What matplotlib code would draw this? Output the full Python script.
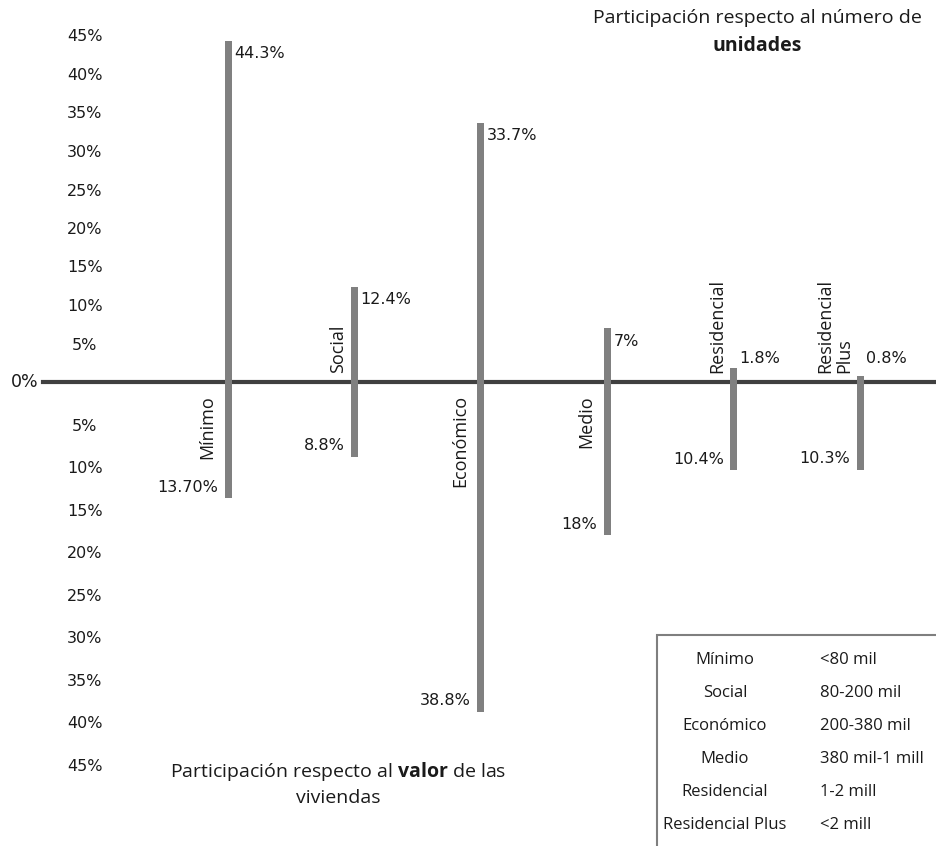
import matplotlib
matplotlib.use("Agg")
import matplotlib.pyplot as plt
from matplotlib.patches import Rectangle
from matplotlib.transforms import blended_transform_factory

# Housing segments and their share of units (upper half) and value (lower half), in %
categories = ["Mínimo", "Social", "Económico", "Medio", "Residencial", "Residencial\nPlus"]
share_units = [44.3, 12.4, 33.7, 7.0, 1.8, 0.8]
share_value = [13.7, 8.8, 38.8, 18.0, 10.4, 10.3]
units_labels = ["44.3%", "12.4%", "33.7%", "7%", "1.8%", "0.8%"]
value_labels = ["13.70%", "8.8%", "38.8%", "18%", "10.4%", "10.3%"]
label_side = ["below", "above", "below", "below", "above", "above"]

tick_values = [5, 10, 15, 20, 25, 30, 35, 40, 45]
tick_labels = [f"{t}%" for t in tick_values]

legend_names = ["Mínimo", "Social", "Económico", "Medio", "Residencial", "Residencial Plus"]
legend_ranges = ["<80 mil", "80-200 mil", "200-380 mil", "380 mil-1 mill", "1-2 mill", "<2 mill"]

plt.rcParams["mathtext.fontset"] = "custom"
plt.rcParams["mathtext.rm"] = "Open Sans"
plt.rcParams["mathtext.bf"] = "Open Sans:bold"
plt.rcParams["mathtext.it"] = "Open Sans:italic"

W, H = 936, 846
TXT = "#1a1a1a"
BAR = "#808080"
SANS = "Open Sans"


def fx(px):
    return px / W


def fy(py):
    return 1 - py / H


fig = plt.figure(figsize=(W / 100, H / 100), dpi=100)

zero_y = 382
left_px = 43
ax_top = fig.add_axes([fx(left_px), fy(zero_y), 1 - fx(left_px), fy(zero_y - 45 * 7.7) - fy(zero_y)])
ax_bot = fig.add_axes([fx(left_px), fy(zero_y + 45 * 8.5), 1 - fx(left_px), fy(zero_y) - fy(zero_y + 45 * 8.5)])

x = list(range(len(categories)))
xlim = (-1.464, 5.60)

for ax in (ax_top, ax_bot):
    ax.set_xlim(*xlim)
    ax.set_ylim(0, 45)
    for s in ax.spines.values():
        s.set_visible(False)
    ax.set_xticks([])
    ax.set_yticks(tick_values)
    ax.set_yticklabels(tick_labels)
    ax.tick_params(axis="y", length=0, pad=-30, labelsize=11.5, labelcolor=TXT)
    for lbl in ax.get_yticklabels():
        lbl.set_horizontalalignment("center")
    ax.patch.set_alpha(0)

ax_bot.invert_yaxis()

ax_top.bar(x, share_units, width=0.055, color=BAR, zorder=3, clip_on=False)
ax_bot.bar(x, share_value, width=0.055, color=BAR, zorder=3, clip_on=False)

# zero line across both halves
ax_top.axhline(0, color="#404040", lw=3, zorder=2, clip_on=False)
ax_top.annotate("0%", xy=(0, 0), xycoords=blended_transform_factory(ax_top.transAxes, ax_top.transData),
                xytext=(-5, 0), textcoords="offset pixels",
                ha="right", va="center", fontsize=12.5, color=TXT)

# value labels
for xi, v, lab in zip(x, share_units, units_labels):
    ax_top.annotate(lab, xy=(xi, max(v, 4.8)), xytext=(6, -13), textcoords="offset pixels",
                    ha="left", va="center", fontsize=11.5, color=TXT)
for xi, v, lab in zip(x, share_value, value_labels):
    ax_bot.annotate(lab, xy=(xi, v), xytext=(-10, 11), textcoords="offset pixels",
                    ha="right", va="center", fontsize=11.5, color=TXT)

# category names next to the bars
for xi, name, side in zip(x, categories, label_side):
    if side == "above":
        ax_top.annotate(name, xy=(xi, 0), xytext=(-7, 9), textcoords="offset pixels",
                        rotation=90, ha="right", va="bottom", ma="left",
                        fontsize=13, family=SANS, color=TXT, linespacing=1.1)
    else:
        ax_top.annotate(name, xy=(xi, 0), xytext=(-12, -13), textcoords="offset pixels",
                        rotation=90, ha="right", va="top", ma="left",
                        fontsize=13, family=SANS, color=TXT)

# titles
fig.text(fx(757), fy(18), "Participación respecto al número de", ha="center", va="center",
         fontsize=14, family=SANS, color=TXT)
fig.text(fx(757), fy(46), "unidades", ha="center", va="center",
         fontsize=14, family=SANS, fontweight="bold", color=TXT)
fig.text(fx(338), fy(771), "Participación respecto al $\\mathbf{valor}$ de las", ha="center", va="center",
         fontsize=14, family=SANS, color=TXT)
fig.text(fx(338), fy(798), "viviendas", ha="center", va="center",
         fontsize=14, family=SANS, color=TXT)

# price-range key
fig.patches.append(Rectangle((fx(657), fy(H + 20)), 1.0, fy(635) - fy(H + 20), transform=fig.transFigure,
                             fill=False, edgecolor="#7f7f7f", lw=1.5))
for i, (nm, rg) in enumerate(zip(legend_names, legend_ranges)):
    yy = fy(660 + 33 * i)
    fig.text(fx(725), yy, nm, ha="center", va="center", fontsize=12, family=SANS, color=TXT)
    fig.text(fx(820), yy, rg, ha="left", va="center", fontsize=12, family=SANS, color=TXT)

fig.savefig("out.png", dpi=100)
